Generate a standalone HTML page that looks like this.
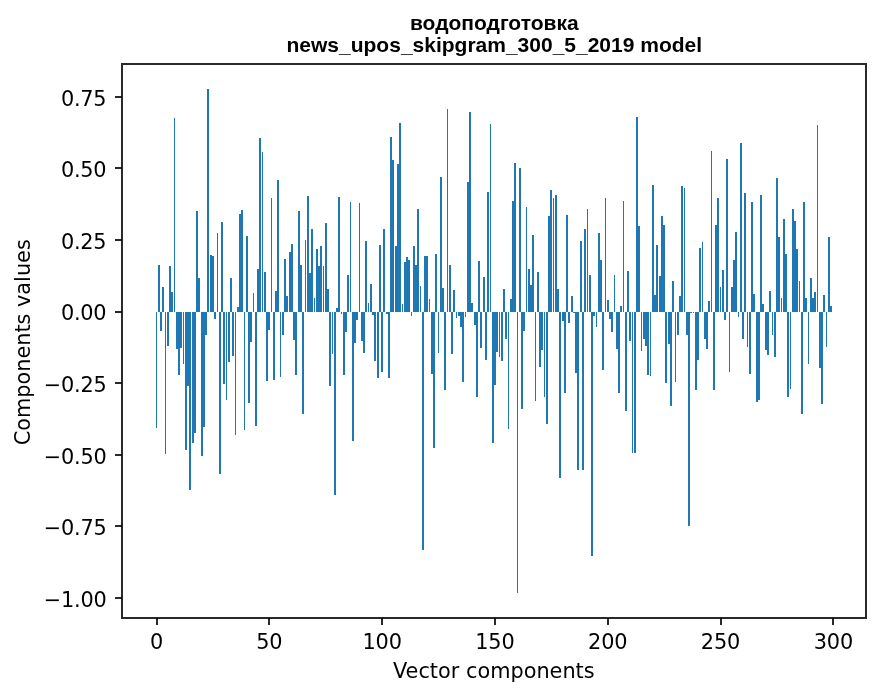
<!DOCTYPE html>
<html lang="ru"><head><meta charset="utf-8"><title>водоподготовка</title>
<style>html,body{margin:0;padding:0;background:#fff}svg{display:block}.t{font-family:"DejaVu Sans","Liberation Sans",sans-serif;font-size:20.83px;fill:#000}.h{font-family:"Liberation Sans","DejaVu Sans",sans-serif;font-weight:bold;font-size:21.00px;fill:#000}</style></head><body>
<svg width="880" height="696" viewBox="0 0 880 696">
<rect width="880" height="696" fill="#fff"/>
<g fill="#1f77b4" shape-rendering="crispEdges">
<rect x="156" y="312" width="1" height="116"/>
<rect x="158" y="265" width="2" height="47"/>
<rect x="160" y="312" width="2" height="19"/>
<rect x="162" y="287" width="2" height="25"/>
<rect x="165" y="312" width="1" height="142"/>
<rect x="167" y="312" width="2" height="34"/>
<rect x="169" y="266" width="2" height="46"/>
<rect x="171" y="292" width="2" height="20"/>
<rect x="174" y="118" width="1" height="194"/>
<rect x="176" y="312" width="2" height="37"/>
<rect x="178" y="312" width="2" height="63"/>
<rect x="180" y="312" width="2" height="36"/>
<rect x="183" y="312" width="1" height="52"/>
<rect x="185" y="312" width="2" height="138"/>
<rect x="187" y="312" width="2" height="74"/>
<rect x="189" y="312" width="2" height="178"/>
<rect x="192" y="312" width="2" height="131"/>
<rect x="194" y="312" width="2" height="121"/>
<rect x="196" y="211" width="2" height="101"/>
<rect x="198" y="278" width="2" height="34"/>
<rect x="201" y="312" width="2" height="144"/>
<rect x="203" y="312" width="2" height="115"/>
<rect x="205" y="312" width="2" height="23"/>
<rect x="207" y="89" width="2" height="223"/>
<rect x="210" y="255" width="2" height="57"/>
<rect x="212" y="256" width="2" height="56"/>
<rect x="214" y="312" width="2" height="7"/>
<rect x="217" y="233" width="1" height="79"/>
<rect x="219" y="312" width="2" height="162"/>
<rect x="221" y="222" width="2" height="90"/>
<rect x="223" y="312" width="2" height="72"/>
<rect x="226" y="312" width="1" height="88"/>
<rect x="228" y="312" width="2" height="50"/>
<rect x="230" y="278" width="2" height="34"/>
<rect x="232" y="312" width="2" height="44"/>
<rect x="235" y="312" width="1" height="123"/>
<rect x="237" y="307" width="2" height="5"/>
<rect x="239" y="214" width="2" height="98"/>
<rect x="241" y="210" width="2" height="102"/>
<rect x="244" y="312" width="1" height="118"/>
<rect x="246" y="236" width="2" height="76"/>
<rect x="248" y="312" width="2" height="91"/>
<rect x="250" y="312" width="2" height="30"/>
<rect x="253" y="293" width="1" height="19"/>
<rect x="255" y="312" width="2" height="114"/>
<rect x="257" y="269" width="2" height="43"/>
<rect x="259" y="138" width="2" height="174"/>
<rect x="262" y="152" width="1" height="160"/>
<rect x="264" y="272" width="2" height="40"/>
<rect x="266" y="312" width="2" height="69"/>
<rect x="268" y="312" width="2" height="18"/>
<rect x="271" y="198" width="1" height="114"/>
<rect x="273" y="312" width="2" height="68"/>
<rect x="275" y="291" width="2" height="21"/>
<rect x="277" y="180" width="2" height="132"/>
<rect x="280" y="312" width="1" height="65"/>
<rect x="282" y="312" width="2" height="23"/>
<rect x="284" y="259" width="2" height="53"/>
<rect x="286" y="296" width="2" height="16"/>
<rect x="289" y="252" width="2" height="60"/>
<rect x="291" y="244" width="2" height="68"/>
<rect x="293" y="312" width="2" height="28"/>
<rect x="295" y="312" width="2" height="63"/>
<rect x="298" y="211" width="2" height="101"/>
<rect x="300" y="265" width="2" height="47"/>
<rect x="302" y="312" width="2" height="102"/>
<rect x="305" y="240" width="1" height="72"/>
<rect x="307" y="196" width="2" height="116"/>
<rect x="309" y="273" width="2" height="39"/>
<rect x="311" y="229" width="2" height="83"/>
<rect x="314" y="298" width="1" height="14"/>
<rect x="316" y="249" width="2" height="63"/>
<rect x="318" y="266" width="2" height="46"/>
<rect x="320" y="246" width="2" height="66"/>
<rect x="323" y="266" width="1" height="46"/>
<rect x="325" y="223" width="2" height="89"/>
<rect x="327" y="289" width="2" height="23"/>
<rect x="329" y="312" width="2" height="74"/>
<rect x="332" y="312" width="1" height="42"/>
<rect x="334" y="312" width="2" height="183"/>
<rect x="336" y="308" width="2" height="4"/>
<rect x="338" y="197" width="2" height="115"/>
<rect x="341" y="312" width="1" height="2"/>
<rect x="343" y="312" width="2" height="63"/>
<rect x="345" y="312" width="2" height="20"/>
<rect x="347" y="275" width="2" height="37"/>
<rect x="350" y="202" width="1" height="110"/>
<rect x="352" y="312" width="2" height="129"/>
<rect x="354" y="312" width="2" height="31"/>
<rect x="356" y="312" width="2" height="8"/>
<rect x="359" y="203" width="1" height="109"/>
<rect x="361" y="312" width="2" height="29"/>
<rect x="363" y="312" width="2" height="41"/>
<rect x="365" y="241" width="2" height="71"/>
<rect x="368" y="303" width="1" height="9"/>
<rect x="370" y="284" width="2" height="28"/>
<rect x="372" y="312" width="2" height="3"/>
<rect x="374" y="312" width="2" height="49"/>
<rect x="377" y="312" width="2" height="66"/>
<rect x="379" y="245" width="2" height="67"/>
<rect x="381" y="312" width="2" height="60"/>
<rect x="383" y="229" width="2" height="83"/>
<rect x="386" y="312" width="2" height="2"/>
<rect x="388" y="312" width="2" height="66"/>
<rect x="390" y="137" width="2" height="175"/>
<rect x="392" y="160" width="2" height="152"/>
<rect x="395" y="246" width="2" height="66"/>
<rect x="397" y="164" width="2" height="148"/>
<rect x="399" y="123" width="2" height="189"/>
<rect x="402" y="304" width="1" height="8"/>
<rect x="404" y="262" width="2" height="50"/>
<rect x="406" y="257" width="2" height="55"/>
<rect x="408" y="260" width="2" height="52"/>
<rect x="411" y="312" width="1" height="4"/>
<rect x="413" y="246" width="2" height="66"/>
<rect x="415" y="265" width="2" height="47"/>
<rect x="417" y="209" width="2" height="103"/>
<rect x="420" y="286" width="1" height="26"/>
<rect x="422" y="312" width="2" height="238"/>
<rect x="424" y="256" width="2" height="56"/>
<rect x="426" y="256" width="2" height="56"/>
<rect x="429" y="299" width="1" height="13"/>
<rect x="431" y="312" width="2" height="62"/>
<rect x="433" y="312" width="2" height="136"/>
<rect x="435" y="254" width="2" height="58"/>
<rect x="438" y="312" width="1" height="41"/>
<rect x="440" y="177" width="2" height="135"/>
<rect x="442" y="288" width="2" height="24"/>
<rect x="444" y="312" width="2" height="78"/>
<rect x="447" y="109" width="1" height="203"/>
<rect x="449" y="265" width="2" height="47"/>
<rect x="451" y="312" width="2" height="42"/>
<rect x="453" y="290" width="2" height="22"/>
<rect x="456" y="312" width="1" height="6"/>
<rect x="458" y="312" width="2" height="4"/>
<rect x="460" y="312" width="2" height="15"/>
<rect x="462" y="312" width="2" height="70"/>
<rect x="465" y="312" width="1" height="5"/>
<rect x="467" y="182" width="2" height="130"/>
<rect x="469" y="112" width="2" height="200"/>
<rect x="471" y="303" width="2" height="9"/>
<rect x="474" y="312" width="2" height="13"/>
<rect x="476" y="312" width="2" height="85"/>
<rect x="478" y="261" width="2" height="51"/>
<rect x="480" y="312" width="2" height="36"/>
<rect x="483" y="277" width="2" height="35"/>
<rect x="485" y="312" width="2" height="48"/>
<rect x="487" y="192" width="2" height="120"/>
<rect x="490" y="124" width="1" height="188"/>
<rect x="492" y="312" width="2" height="131"/>
<rect x="494" y="312" width="2" height="73"/>
<rect x="496" y="312" width="2" height="40"/>
<rect x="499" y="312" width="1" height="45"/>
<rect x="501" y="312" width="2" height="49"/>
<rect x="503" y="289" width="2" height="23"/>
<rect x="505" y="312" width="2" height="27"/>
<rect x="508" y="312" width="1" height="117"/>
<rect x="510" y="299" width="2" height="13"/>
<rect x="512" y="201" width="2" height="111"/>
<rect x="514" y="163" width="2" height="149"/>
<rect x="517" y="312" width="1" height="281"/>
<rect x="519" y="168" width="2" height="144"/>
<rect x="521" y="312" width="2" height="97"/>
<rect x="523" y="312" width="2" height="19"/>
<rect x="526" y="207" width="1" height="105"/>
<rect x="528" y="269" width="2" height="43"/>
<rect x="530" y="285" width="2" height="27"/>
<rect x="532" y="235" width="2" height="77"/>
<rect x="535" y="312" width="1" height="89"/>
<rect x="537" y="272" width="2" height="40"/>
<rect x="539" y="312" width="2" height="55"/>
<rect x="541" y="312" width="2" height="38"/>
<rect x="544" y="312" width="1" height="85"/>
<rect x="546" y="312" width="2" height="112"/>
<rect x="548" y="216" width="2" height="96"/>
<rect x="550" y="190" width="2" height="122"/>
<rect x="553" y="198" width="1" height="114"/>
<rect x="555" y="195" width="2" height="117"/>
<rect x="557" y="289" width="2" height="23"/>
<rect x="559" y="312" width="2" height="166"/>
<rect x="562" y="312" width="2" height="9"/>
<rect x="564" y="312" width="2" height="81"/>
<rect x="566" y="215" width="2" height="97"/>
<rect x="568" y="312" width="2" height="11"/>
<rect x="571" y="296" width="2" height="16"/>
<rect x="573" y="312" width="2" height="1"/>
<rect x="575" y="312" width="2" height="61"/>
<rect x="577" y="312" width="2" height="158"/>
<rect x="580" y="241" width="2" height="71"/>
<rect x="582" y="312" width="2" height="158"/>
<rect x="584" y="229" width="2" height="83"/>
<rect x="587" y="209" width="1" height="103"/>
<rect x="589" y="275" width="2" height="37"/>
<rect x="591" y="312" width="2" height="244"/>
<rect x="593" y="312" width="2" height="4"/>
<rect x="596" y="312" width="1" height="15"/>
<rect x="598" y="233" width="2" height="79"/>
<rect x="600" y="260" width="2" height="52"/>
<rect x="602" y="312" width="2" height="58"/>
<rect x="605" y="198" width="1" height="114"/>
<rect x="607" y="300" width="2" height="12"/>
<rect x="609" y="312" width="2" height="7"/>
<rect x="611" y="312" width="2" height="20"/>
<rect x="614" y="275" width="1" height="37"/>
<rect x="616" y="312" width="2" height="37"/>
<rect x="618" y="312" width="2" height="81"/>
<rect x="620" y="306" width="2" height="6"/>
<rect x="623" y="201" width="1" height="111"/>
<rect x="625" y="312" width="2" height="99"/>
<rect x="627" y="271" width="2" height="41"/>
<rect x="629" y="312" width="2" height="29"/>
<rect x="632" y="312" width="1" height="141"/>
<rect x="634" y="312" width="2" height="141"/>
<rect x="636" y="117" width="2" height="195"/>
<rect x="638" y="226" width="2" height="86"/>
<rect x="641" y="312" width="1" height="39"/>
<rect x="643" y="312" width="2" height="27"/>
<rect x="645" y="312" width="2" height="34"/>
<rect x="647" y="312" width="2" height="63"/>
<rect x="650" y="312" width="1" height="64"/>
<rect x="652" y="185" width="2" height="127"/>
<rect x="654" y="295" width="2" height="17"/>
<rect x="656" y="245" width="2" height="67"/>
<rect x="659" y="276" width="2" height="36"/>
<rect x="661" y="216" width="2" height="96"/>
<rect x="663" y="225" width="2" height="87"/>
<rect x="665" y="312" width="2" height="71"/>
<rect x="668" y="312" width="2" height="32"/>
<rect x="670" y="312" width="2" height="94"/>
<rect x="672" y="281" width="2" height="31"/>
<rect x="675" y="312" width="1" height="70"/>
<rect x="677" y="312" width="2" height="23"/>
<rect x="679" y="296" width="2" height="16"/>
<rect x="681" y="186" width="2" height="126"/>
<rect x="684" y="188" width="1" height="124"/>
<rect x="686" y="312" width="2" height="23"/>
<rect x="688" y="312" width="2" height="214"/>
<rect x="690" y="312" width="2" height="1"/>
<rect x="693" y="312" width="1" height="1"/>
<rect x="695" y="312" width="2" height="78"/>
<rect x="697" y="312" width="2" height="48"/>
<rect x="699" y="248" width="2" height="64"/>
<rect x="702" y="242" width="1" height="70"/>
<rect x="704" y="312" width="2" height="27"/>
<rect x="706" y="312" width="2" height="37"/>
<rect x="708" y="301" width="2" height="11"/>
<rect x="711" y="151" width="1" height="161"/>
<rect x="713" y="312" width="2" height="78"/>
<rect x="715" y="225" width="2" height="87"/>
<rect x="717" y="198" width="2" height="114"/>
<rect x="720" y="287" width="1" height="25"/>
<rect x="722" y="270" width="2" height="42"/>
<rect x="724" y="312" width="2" height="8"/>
<rect x="726" y="159" width="2" height="153"/>
<rect x="729" y="312" width="1" height="60"/>
<rect x="731" y="287" width="2" height="25"/>
<rect x="733" y="260" width="2" height="52"/>
<rect x="735" y="232" width="2" height="80"/>
<rect x="738" y="312" width="1" height="5"/>
<rect x="740" y="143" width="2" height="169"/>
<rect x="742" y="312" width="2" height="27"/>
<rect x="744" y="193" width="2" height="119"/>
<rect x="747" y="312" width="1" height="35"/>
<rect x="749" y="312" width="2" height="62"/>
<rect x="751" y="202" width="2" height="110"/>
<rect x="753" y="294" width="2" height="18"/>
<rect x="756" y="312" width="2" height="90"/>
<rect x="758" y="312" width="2" height="88"/>
<rect x="760" y="195" width="2" height="117"/>
<rect x="762" y="304" width="2" height="8"/>
<rect x="765" y="312" width="2" height="38"/>
<rect x="767" y="312" width="2" height="43"/>
<rect x="769" y="291" width="2" height="21"/>
<rect x="772" y="312" width="1" height="23"/>
<rect x="774" y="312" width="2" height="45"/>
<rect x="776" y="178" width="2" height="134"/>
<rect x="778" y="237" width="2" height="75"/>
<rect x="781" y="298" width="1" height="14"/>
<rect x="783" y="219" width="2" height="93"/>
<rect x="785" y="254" width="2" height="58"/>
<rect x="787" y="312" width="2" height="85"/>
<rect x="790" y="312" width="1" height="77"/>
<rect x="792" y="209" width="2" height="103"/>
<rect x="794" y="221" width="2" height="91"/>
<rect x="796" y="249" width="2" height="63"/>
<rect x="799" y="281" width="1" height="31"/>
<rect x="801" y="312" width="2" height="102"/>
<rect x="803" y="202" width="2" height="110"/>
<rect x="805" y="298" width="2" height="14"/>
<rect x="808" y="312" width="1" height="52"/>
<rect x="810" y="278" width="2" height="34"/>
<rect x="812" y="298" width="2" height="14"/>
<rect x="814" y="292" width="2" height="20"/>
<rect x="817" y="125" width="1" height="187"/>
<rect x="819" y="312" width="2" height="56"/>
<rect x="821" y="312" width="2" height="92"/>
<rect x="823" y="295" width="2" height="17"/>
<rect x="826" y="312" width="1" height="35"/>
<rect x="828" y="237" width="2" height="75"/>
<rect x="830" y="306" width="2" height="6"/>
</g>
<g fill="#2a2a2a" shape-rendering="crispEdges">
<rect x="121" y="63" width="2" height="556"/>
<rect x="865" y="63" width="2" height="556"/>
<rect x="121" y="63" width="746" height="2"/>
<rect x="121" y="617" width="746" height="2"/>
</g>
<g fill="#2a2a2a" shape-rendering="crispEdges">
<rect x="156" y="619" width="2" height="6"/>
<rect x="268" y="619" width="2" height="6"/>
<rect x="381" y="619" width="2" height="6"/>
<rect x="494" y="619" width="2" height="6"/>
<rect x="607" y="619" width="2" height="6"/>
<rect x="720" y="619" width="2" height="6"/>
<rect x="832" y="619" width="2" height="6"/>
<rect x="115" y="96" width="6" height="2"/>
<rect x="115" y="167" width="6" height="2"/>
<rect x="115" y="239" width="6" height="2"/>
<rect x="115" y="311" width="6" height="2"/>
<rect x="115" y="382" width="6" height="2"/>
<rect x="115" y="454" width="6" height="2"/>
<rect x="115" y="525" width="6" height="2"/>
<rect x="115" y="597" width="6" height="2"/>
</g>
<g fill="#070707" shape-rendering="crispEdges">
<rect x="156" y="618" width="2" height="1"/>
<rect x="268" y="618" width="2" height="1"/>
<rect x="381" y="618" width="2" height="1"/>
<rect x="494" y="618" width="2" height="1"/>
<rect x="607" y="618" width="2" height="1"/>
<rect x="720" y="618" width="2" height="1"/>
<rect x="832" y="618" width="2" height="1"/>
<rect x="121" y="96" width="1" height="2"/>
<rect x="121" y="167" width="1" height="2"/>
<rect x="121" y="239" width="1" height="2"/>
<rect x="121" y="311" width="1" height="2"/>
<rect x="121" y="382" width="1" height="2"/>
<rect x="121" y="454" width="1" height="2"/>
<rect x="121" y="525" width="1" height="2"/>
<rect x="121" y="597" width="1" height="2"/>
</g>
<g class="t" text-anchor="middle" letter-spacing="-0.12">
<text x="156.51" y="649.00">0</text>
<text x="269.31" y="649.00">50</text>
<text x="382.12" y="649.00">100</text>
<text x="494.92" y="649.00">150</text>
<text x="607.72" y="649.00">200</text>
<text x="720.52" y="649.00">250</text>
<text x="833.33" y="649.00">300</text>
</g>
<g class="t" text-anchor="end" letter-spacing="-0.25">
<text x="106.40" y="105.80">0.75</text>
<text x="106.40" y="176.80">0.50</text>
<text x="106.40" y="248.80">0.25</text>
<text x="106.40" y="319.80">0.00</text>
<text x="106.40" y="391.80">−0.25</text>
<text x="106.40" y="463.80">−0.50</text>
<text x="106.40" y="534.80">−0.75</text>
<text x="106.40" y="606.80">−1.00</text>
</g>
<text class="t" text-anchor="middle" x="493.80" y="678.00">Vector components</text>
<text class="t" text-anchor="middle" transform="translate(30.30 342.30) rotate(-90)">Components values</text>
<text class="h" text-anchor="middle" x="494.30" y="29.50">водоподготовка</text>
<text class="h" text-anchor="middle" x="494.30" y="51.70">news_upos_skipgram_300_5_2019 model</text>
</svg></body></html>
